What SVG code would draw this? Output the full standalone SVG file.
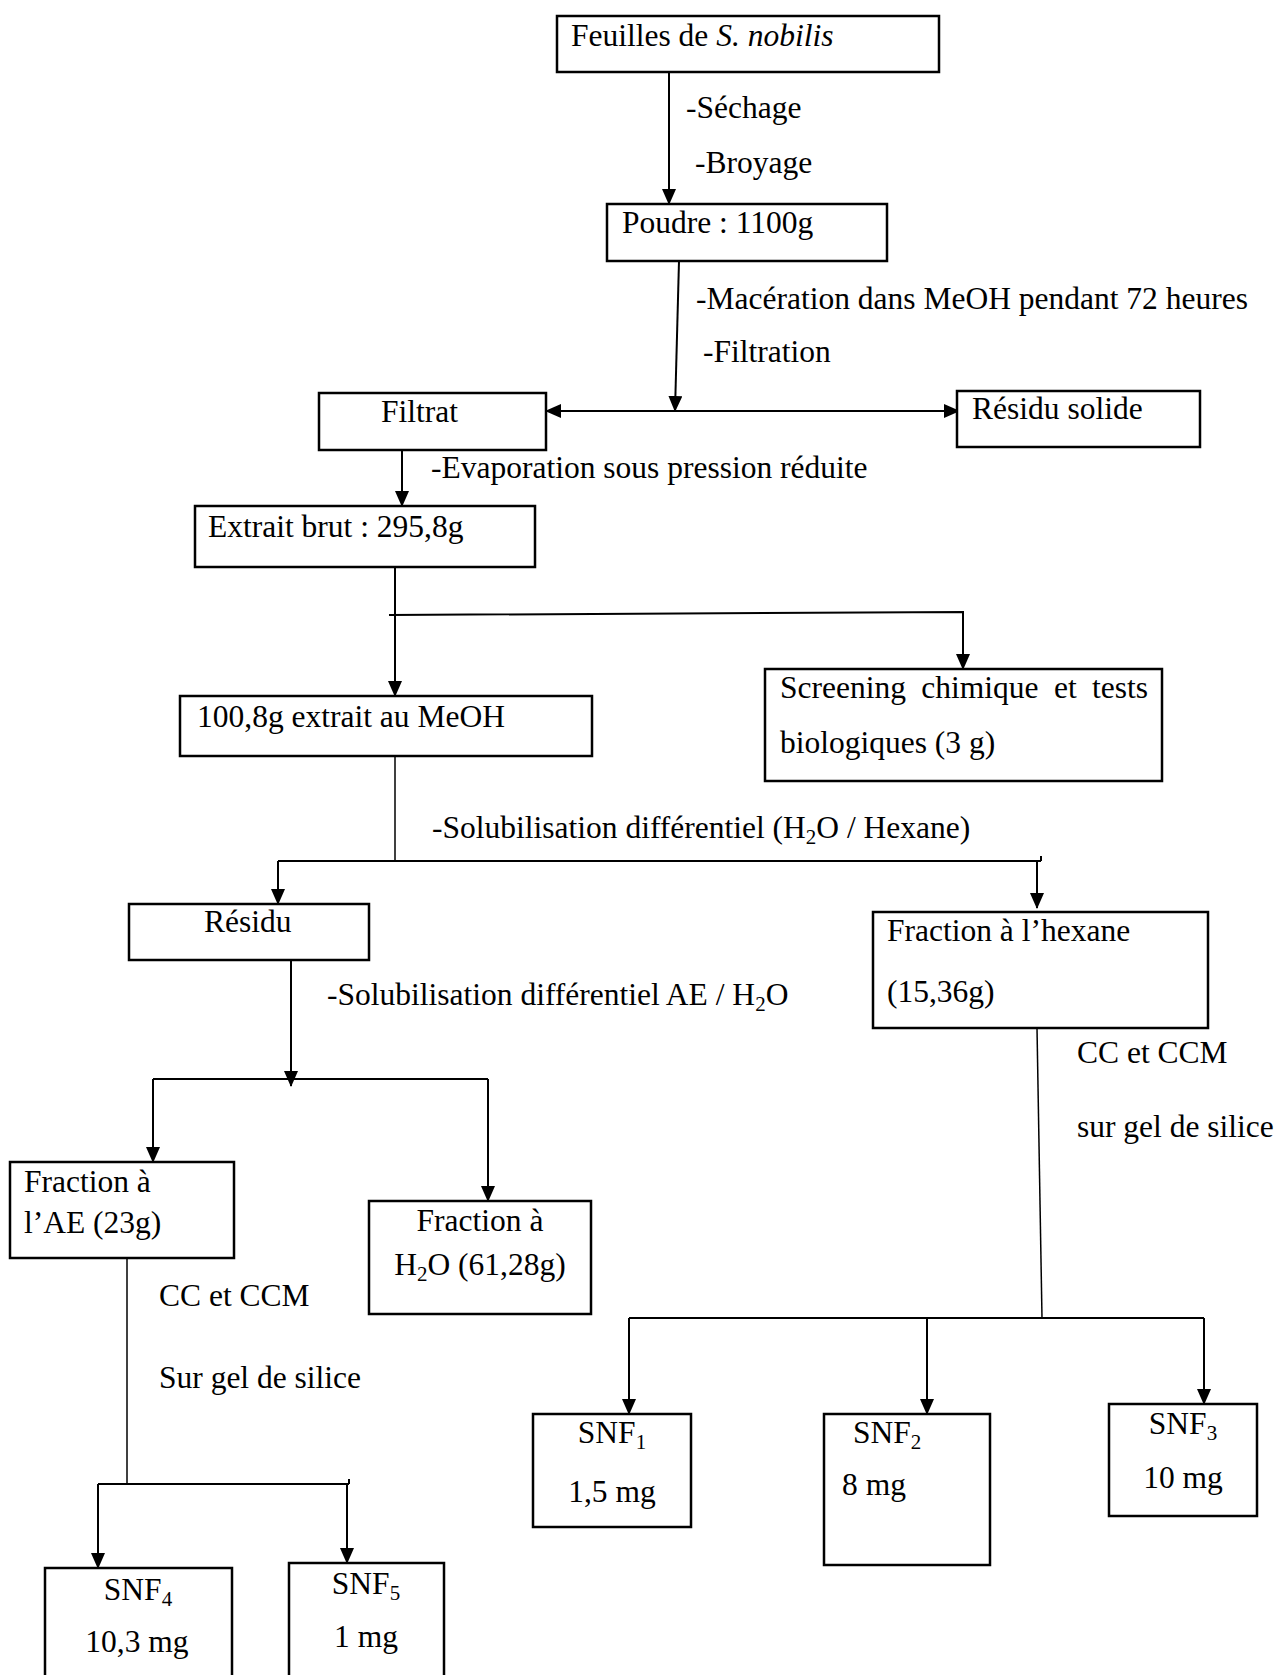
<svg xmlns="http://www.w3.org/2000/svg" width="1280" height="1675" viewBox="0 0 1280 1675">
<defs>
<marker id="arr" markerUnits="userSpaceOnUse" markerWidth="16" markerHeight="14" refX="15" refY="7" orient="auto-start-reverse" viewBox="0 0 16 14">
<path d="M0,0 L16,7 L0,14 z" fill="#000"/>
</marker>
<style>
text{font-family:"Liberation Serif","Times New Roman",serif;font-size:31.5px;fill:#000}
.box{fill:#fff;stroke:#000;stroke-width:2.5}
.c{fill:none;stroke:#000;stroke-width:2}
.t{fill:none;stroke:#000;stroke-width:1.5}
.a{marker-end:url(#arr)}
.sub{font-size:21px}
.mid{text-anchor:middle}
</style>
</defs>
<rect width="1280" height="1675" fill="#fff"/>

<g id="connectors">
<line class="c a" x1="669" y1="72" x2="669" y2="204"/>
<line class="c a" x1="679" y1="261" x2="675" y2="411"/>
<line class="c" x1="546" y1="411" x2="959" y2="411" marker-start="url(#arr)" marker-end="url(#arr)"/>
<line class="c a" x1="402" y1="450" x2="402" y2="506"/>
<line class="c a" x1="395" y1="558" x2="395" y2="696"/>
<polyline class="c a" points="389,615 963,612 963,669"/>
<line class="t" x1="395" y1="756" x2="395" y2="861"/>
<line class="c" x1="278" y1="861" x2="1041" y2="861"/>
<line class="c" x1="1041" y1="856" x2="1041" y2="861"/>
<line class="c a" x1="278" y1="861" x2="278" y2="904"/>
<line class="c a" x1="1037" y1="861" x2="1037" y2="908"/>
<line class="c a" x1="291" y1="955" x2="291" y2="1086"/>
<line class="c" x1="153" y1="1079" x2="488" y2="1079"/>
<line class="c a" x1="153" y1="1079" x2="153" y2="1162"/>
<line class="c a" x1="488" y1="1079" x2="488" y2="1201"/>
<line class="t" x1="127" y1="1258" x2="127" y2="1484"/>
<line class="c" x1="98" y1="1484" x2="349" y2="1484"/>
<line class="c" x1="349" y1="1479" x2="349" y2="1484"/>
<line class="c a" x1="98" y1="1484" x2="98" y2="1568"/>
<line class="c a" x1="347" y1="1484" x2="347" y2="1563"/>
<line class="t" x1="1037" y1="1028" x2="1042" y2="1318"/>
<line class="c" x1="629" y1="1318" x2="1204" y2="1318"/>
<line class="c a" x1="629" y1="1318" x2="629" y2="1414"/>
<line class="c a" x1="927" y1="1318" x2="927" y2="1414"/>
<line class="c a" x1="1204" y1="1318" x2="1204" y2="1404"/>
</g>

<g id="labels">
<text x="686" y="118">-Séchage</text>
<text x="695" y="173">-Broyage</text>
<text x="696" y="309">-Macération dans MeOH pendant 72 heures</text>
<text x="703" y="362">-Filtration</text>
<text x="431" y="478">-Evaporation sous pression réduite</text>
<text x="432" y="838">-Solubilisation différentiel (H<tspan class="sub" dy="6">2</tspan><tspan dy="-6">O / Hexane)</tspan></text>
<text x="327" y="1005">-Solubilisation différentiel AE / H<tspan class="sub" dy="6">2</tspan><tspan dy="-6">O</tspan></text>
<text x="1077" y="1063">CC et CCM</text>
<text x="1077" y="1137">sur gel de silice</text>
<text x="159" y="1306">CC et CCM</text>
<text x="159" y="1388">Sur gel de silice</text>
</g>

<g id="n-feuilles">
<rect class="box" x="557" y="16" width="382" height="56"/>
<text x="571" y="46">Feuilles de <tspan font-style="italic">S. nobilis</tspan></text>
</g>
<g id="n-poudre">
<rect class="box" x="607" y="204" width="280" height="57"/>
<text x="622" y="233">Poudre : 1100g</text>
</g>
<g id="n-filtrat">
<rect class="box" x="319" y="393" width="227" height="57"/>
<text x="381" y="422">Filtrat</text>
</g>
<g id="n-residu-solide">
<rect class="box" x="957" y="391" width="243" height="56"/>
<text x="972" y="419">Résidu solide</text>
</g>
<g id="n-extrait-brut">
<rect class="box" x="195" y="506" width="340" height="61"/>
<text x="208" y="537">Extrait brut : 295,8g</text>
</g>
<g id="n-extrait-meoh">
<rect class="box" x="180" y="696" width="412" height="60"/>
<text x="197" y="727">100,8g extrait au MeOH</text>
</g>
<g id="n-screening">
<rect class="box" x="765" y="669" width="397" height="112"/>
<text x="780" y="698" word-spacing="7.5">Screening chimique et tests</text>
<text x="780" y="753">biologiques (3 g)</text>
</g>
<g id="n-residu">
<rect class="box" x="129" y="904" width="240" height="56"/>
<text x="204" y="932">Résidu</text>
</g>
<g id="n-hexane">
<rect class="box" x="873" y="912" width="335" height="116"/>
<text x="887" y="941">Fraction à l’hexane</text>
<text x="887" y="1002">(15,36g)</text>
</g>
<g id="n-ae">
<rect class="box" x="10" y="1162" width="224" height="96"/>
<text x="24" y="1192">Fraction à</text>
<text x="24" y="1233">l’AE (23g)</text>
</g>
<g id="n-h2o">
<rect class="box" x="369" y="1201" width="222" height="113"/>
<text class="mid" x="480" y="1231">Fraction à</text>
<text class="mid" x="480" y="1275">H<tspan class="sub" dy="6">2</tspan><tspan dy="-6">O (61,28g)</tspan></text>
</g>
<g id="n-snf1">
<rect class="box" x="533" y="1414" width="158" height="113"/>
<text class="mid" x="612" y="1443">SNF<tspan class="sub" dy="6">1</tspan></text>
<text class="mid" x="612" y="1502">1,5 mg</text>
</g>
<g id="n-snf2">
<rect class="box" x="824" y="1414" width="166" height="151"/>
<text x="853" y="1443">SNF<tspan class="sub" dy="6">2</tspan></text>
<text x="842" y="1495">8 mg</text>
</g>
<g id="n-snf3">
<rect class="box" x="1109" y="1404" width="148" height="112"/>
<text class="mid" x="1183" y="1434">SNF<tspan class="sub" dy="6">3</tspan></text>
<text class="mid" x="1183" y="1488">10 mg</text>
</g>
<g id="n-snf4">
<rect class="box" x="45" y="1568" width="187" height="120"/>
<text class="mid" x="138" y="1600">SNF<tspan class="sub" dy="6">4</tspan></text>
<text class="mid" x="137" y="1652">10,3 mg</text>
</g>
<g id="n-snf5">
<rect class="box" x="289" y="1563" width="155" height="125"/>
<text class="mid" x="366" y="1594">SNF<tspan class="sub" dy="6">5</tspan></text>
<text class="mid" x="366" y="1647">1 mg</text>
</g>
</svg>
